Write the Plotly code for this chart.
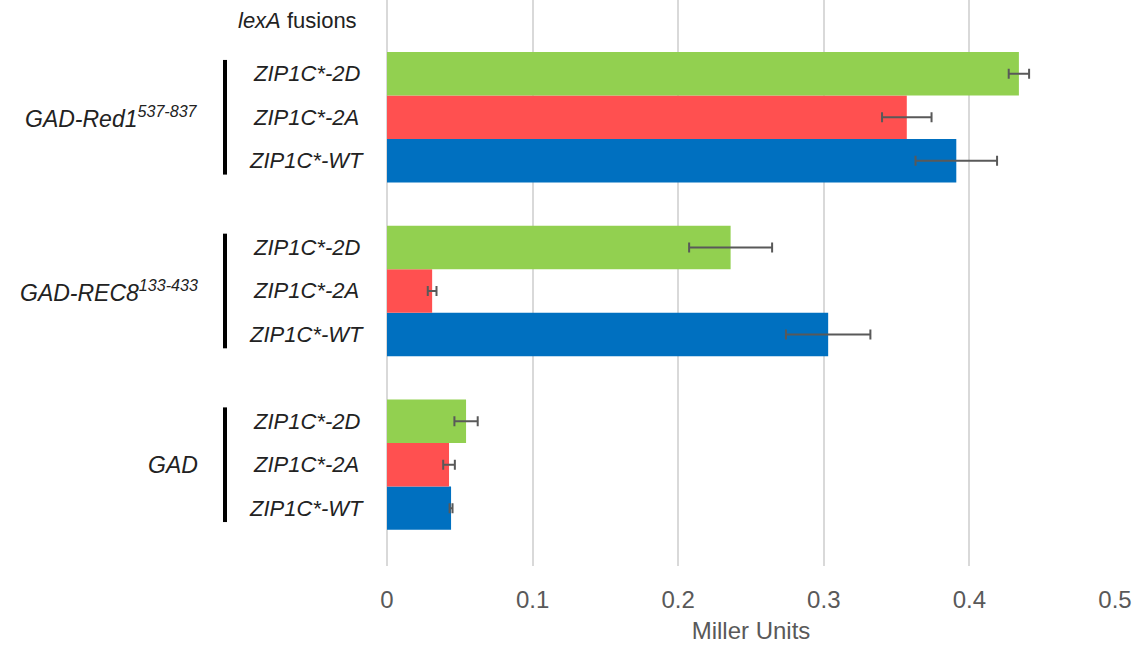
import plotly.graph_objects as go

# ---- data ----
groups = ["GAD", "GAD-REC8", "GAD-Red1"]          # bottom -> top
group_labels = ["<i>GAD</i>",
                "<i>GAD-REC8<sup>133-433</sup></i>",
                "<i>GAD-Red1<sup>537-837</sup></i>"]
series_names = ["ZIP1C*-WT", "ZIP1C*-2A", "ZIP1C*-2D"]  # drawn bottom -> top within group
wt_vals = [0.044, 0.303, 0.391]
wt_err = [0.001, 0.029, 0.028]
a2_vals = [0.0426, 0.031, 0.357]
a2_err = [0.004, 0.003, 0.017]
d2_vals = [0.0543, 0.236, 0.434]
d2_err = [0.008, 0.0285, 0.007]
x_ticks = [0, 0.1, 0.2, 0.3, 0.4, 0.5]
x_title = "Miller Units"

colors = ["#0070C0", "#FF5050", "#92D050"]
values = [wt_vals, a2_vals, d2_vals]
errors = [wt_err, a2_err, d2_err]

W, H = 1138, 648
ML, MR, MT, MB = 387, 23, 0, 82
PW = W - ML - MR
PH = H - MT - MB

def px_to_paper_x(px):
    return (px - ML) / PW

def px_to_paper_y(py):
    return 1 - (py - MT) / PH

fig = go.Figure()
for name, vals, errs, col in zip(series_names, values, errors, colors):
    fig.add_trace(go.Bar(
        y=groups, x=vals, name=name, orientation="h",
        marker=dict(color=col, line=dict(width=0)),
        error_x=dict(type="data", array=errs, color="#595959", thickness=2, width=5),
    ))

bargap = 0.25
slot = (1 - bargap) / len(series_names)
font_family = "Arial, Liberation Sans, sans-serif"
annotations = []
shapes = []
for gi, glab in enumerate(group_labels):
    annotations.append(dict(
        x=px_to_paper_x(200), xref="paper", y=gi, yref="y",
        text=glab, showarrow=False, xanchor="right", yanchor="middle",
        font=dict(family=font_family, size=23, color="#222222")))
    for si, sname in enumerate(series_names):
        off = (si - (len(series_names) - 1) / 2) * slot
        annotations.append(dict(
            x=px_to_paper_x(306), xref="paper", y=gi + off, yref="y",
            text="<i>" + sname + "</i>", showarrow=False, xanchor="center", yanchor="middle",
            font=dict(family=font_family, size=22, color="#222222")))
    shapes.append(dict(
        type="line", xref="paper", yref="y",
        x0=px_to_paper_x(225), x1=px_to_paper_x(225),
        y0=gi - 0.33, y1=gi + 0.33,
        line=dict(color="black", width=4)))

annotations.append(dict(
    x=px_to_paper_x(297), xref="paper", y=px_to_paper_y(20), yref="paper",
    text="<i>lexA</i> fusions", showarrow=False, xanchor="center", yanchor="middle",
    font=dict(family=font_family, size=22, color="#222222")))

fig.update_layout(
    width=W, height=H,
    margin=dict(l=ML, r=MR, t=MT, b=MB, pad=0),
    plot_bgcolor="white", paper_bgcolor="white",
    barmode="group", bargap=bargap, bargroupgap=0,
    showlegend=False,
    annotations=annotations, shapes=shapes,
    font=dict(family=font_family),
)
fig.update_xaxes(
    range=[0, 0.5], tickvals=x_ticks, ticktext=[f"{v:g}" for v in x_ticks],
    showgrid=True, gridcolor="#d9d9d9", gridwidth=2,
    zeroline=True, zerolinecolor="#d9d9d9", zerolinewidth=2,
    showline=False, ticks="", ticklabelstandoff=17,
    tickfont=dict(family=font_family, size=24, color="#595959"),
    title=dict(text=x_title, standoff=10,
               font=dict(family=font_family, size=24, color="#595959")),
)
fig.update_yaxes(
    range=[-0.583, 2.675], showticklabels=False, showgrid=False,
    zeroline=False, showline=False, ticks="",
)

fig.write_html("out.html", config={"displayModeBar": False},
               post_script="document.body.style.margin='0';document.body.style.overflow='hidden';")
